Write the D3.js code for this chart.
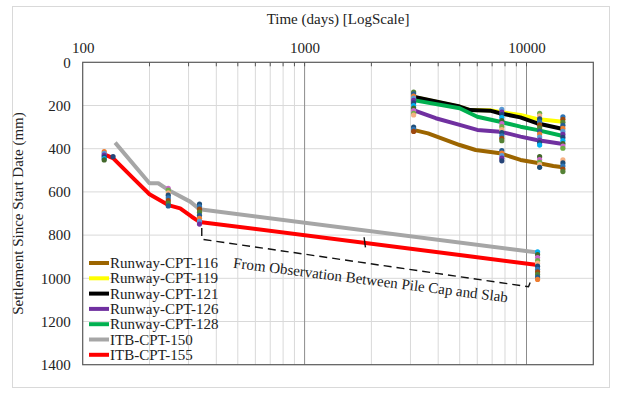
<!DOCTYPE html>
<html><head><meta charset="utf-8">
<script src="https://cdn.jsdelivr.net/npm/d3@7"></script>
<style>body{margin:0;background:#fff}svg{display:block}text{font-family:"Liberation Serif","Times New Roman",serif;fill:#222}</style>
</head><body><svg id="c" width="617" height="393"></svg>
<script>
// ---- data ----
const seriesNames = ["Runway-CPT-116","Runway-CPT-119","Runway-CPT-121","Runway-CPT-126","Runway-CPT-128","ITB-CPT-150","ITB-CPT-155"];
const seriesColors = ["#9C6500","#FFFF00","#000000","#7030A0","#00B050","#A6A6A6","#FF0000"];
const cpt116 = [[3090,313],[3600,329],[5000,383],[5900,406],[7600,421],[9400,452],[11100,465],[13200,480],[14600,486]];
const cpt119 = [[3090,160],[5000,206],[5570,221],[6860,222],[7600,230],[9400,244],[11100,262],[14600,275]];
const cpt121 = [[3090,159],[5000,205],[5570,221],[6860,224],[7590,236],[9380,255],[11120,282],[14590,309]];
const cpt126 = [[3090,221],[3900,259],[5000,290],[6000,313],[7600,321],[9400,344],[11100,360],[14600,378]];
const cpt128 = [[3090,175],[5000,213],[6000,252],[7600,275],[9400,298],[11100,313],[14600,341]];
const itb150 = [[140,372],[200,560],[219,560],[243,591],[305,645],[336,680],[11220,881]];
const itb155 = [[125,426],[137,444],[170,540],[200,611],[243,661],[275,676],[310,715],[336,739],[11220,938]];
const seriesData = [cpt116,cpt119,cpt121,cpt126,cpt128,itb150,itb155];

// observation markers: day and observed settlements
const markerDays = [125,137,243,336,3100,7740,11220,11460,14590];
const markerValues = [
  [414,422,430,438,446,452],
  [437],
  [583,592,604,615,628,640,652,665],
  [656,668,680,694,708,722,736,749],
  [138,146,156,166,176,188,200,212,224,236,244,300,310,320],
  [218,230,242,256,270,284,298,312,326,340,352,363,409,420,432,444,456],
  [877,890,904,918,930,944,958,970,982,994,1005],
  [236,248,262,276,290,304,318,332,346,360,372,383,437,450,462,474,486],
  [252,264,278,292,306,320,334,348,362,376,388,398,452,466,480,494,506]
];
const markerColors = ["#ED7D31","#5B9BD5","#7030A0","#264478","#00B0F0","#43682B","#CC66CC","#70AD47","#F4B183","#1F4E79","#2E75B6","#9E480E","#548235","#255E91"];

const xTicks = [100,1000,10000];
const yTicks = [0,200,400,600,800,1000,1200,1400];
const minorDays = [200,300,400,500,600,700,800,900,2000,3000,4000,5000,6000,7000,8000,9000];
const bracket = [[344,767],[344,819],[10210,1039],[10560,1000]];
const bracketMid = [[1854,810],[1880,857]];
const noteText = "From Observation Between Pile Cap and Slab";

// ---- drawing ----
const svg = d3.select("#c");
const L=82.7,R=593.3,T=62.3,B=364.7;
const x = d3.scaleLog().domain([100,20000]).range([L,R]);
const y = d3.scaleLinear().domain([0,1400]).range([T,B]);

svg.append("rect").attr("x",12.5).attr("y",6.5).attr("width",597).attr("height",381).attr("fill","none").attr("stroke","#d9d9d9");

const g = svg.append("g");
// gridlines
g.selectAll(".hg").data(yTicks.slice(1,-1)).join("line").attr("x1",L).attr("x2",R).attr("y1",d=>y(d)).attr("y2",d=>y(d)).attr("stroke","#d9d9d9").attr("stroke-width",1);
g.selectAll(".vg").data(minorDays).join("line").attr("x1",d=>x(d)).attr("x2",d=>x(d)).attr("y1",T).attr("y2",B).attr("stroke","#d9d9d9").attr("stroke-width",1);
g.selectAll(".vM").data([1000,10000]).join("line").attr("x1",d=>x(d)).attr("x2",d=>x(d)).attr("y1",T).attr("y2",B).attr("stroke","#8c8c8c").attr("stroke-width",1);
// top ticks
g.selectAll(".tt").data(minorDays.concat([1000,10000])).join("line").attr("x1",d=>x(d)).attr("x2",d=>x(d)).attr("y1",T).attr("y2",T+4).attr("stroke","#595959");
// plot border
g.append("rect").attr("x",L).attr("y",T).attr("width",R-L).attr("height",B-T).attr("fill","none").attr("stroke","#595959").attr("stroke-width",1.2);

// axis labels
const xAxis = d3.axisTop(x).tickValues(xTicks).tickFormat(d3.format("d")).tickSize(0).tickPadding(0);
const ax = svg.append("g").attr("transform",`translate(0,${T-9})`).call(xAxis);
ax.attr("font-family",null);
ax.select(".domain").remove();
ax.selectAll("text").attr("font-size",15).attr("fill","#222");
const yAxis = d3.axisLeft(y).tickValues(yTicks).tickFormat(d3.format("d")).tickSize(0).tickPadding(0);
const ay = svg.append("g").attr("transform",`translate(${L-12},0)`).call(yAxis);
ay.attr("font-family",null);
ay.select(".domain").remove();
ay.selectAll("text").attr("font-size",15).attr("fill","#222");

svg.append("text").attr("x",(L+R)/2).attr("y",24).attr("text-anchor","middle").attr("font-size",15).text("Time (days) [LogScale]");
svg.append("text").attr("transform",`translate(23,${(T+B)/2}) rotate(-90)`).attr("text-anchor","middle").attr("font-size",15).text("Settlement Since Start Date (mm)");

// lines
const line = d3.line().x(d=>x(d[0])).y(d=>y(d[1]));
seriesData.forEach((s,i)=>{
  g.append("path").attr("d",line(s)).attr("fill","none").attr("stroke",seriesColors[i]).attr("stroke-width",4).attr("stroke-linejoin","round");
});
// markers
markerDays.forEach((d,i)=>{
  g.selectAll(null).data(markerValues[i]).join("circle").attr("cx",x(d)).attr("cy",v=>y(v)).attr("r",2.6)
   .attr("fill",(v,j)=>markerColors[(j+i*3)%markerColors.length]);
});

// bracket annotation
g.append("path").attr("d",line(bracket)).attr("fill","none").attr("stroke","#111").attr("stroke-width",1.4).attr("stroke-dasharray","8,5");
g.append("path").attr("d",line(bracketMid)).attr("fill","none").attr("stroke","#111").attr("stroke-width",1.4);
svg.append("text").attr("transform",`translate(370,${285}) rotate(7.2)`).attr("text-anchor","middle").attr("font-size",15).text(noteText);

// legend
const lg = svg.append("g").attr("transform","translate(89,263)");
seriesNames.forEach((n,i)=>{
  const r = lg.append("g").attr("transform",`translate(0,${i*15.3})`);
  r.append("line").attr("x1",0).attr("x2",20).attr("y1",0).attr("y2",0).attr("stroke",seriesColors[i]).attr("stroke-width",4);
  r.append("text").attr("x",21).attr("y",5).attr("font-size",15).text(n);
});
</script></body></html>
